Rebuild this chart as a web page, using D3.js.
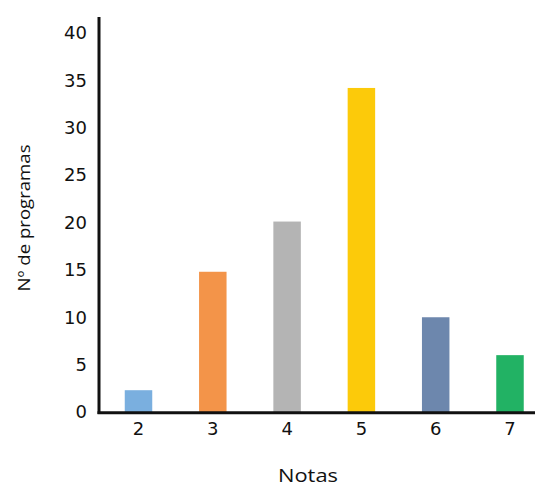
<!DOCTYPE html>
<html>
<head>
<meta charset="utf-8">
<script src="https://cdn.jsdelivr.net/npm/d3@7"></script>
<style>
  html, body { margin: 0; padding: 0; background: #fff; }
  svg { display: block; }
  text { font-family: "Open Sans", "DejaVu Sans", sans-serif; fill: #111; }
</style>
</head>
<body>
<svg id="chart" width="535" height="487"></svg>
<script>
const categories = ["2", "3", "4", "5", "6", "7"];
const values = [2.3, 14.8, 20.1, 34.2, 10, 6];
const colors = ["#7aafdf", "#f39449", "#b4b4b4", "#fcca0a", "#6d87ad", "#22b264"];
const yTicks = [0, 5, 10, 15, 20, 25, 30, 35, 40];
const xTitle = "Notas";
const yTitle = "Nº de programas";

const svg = d3.select("#chart");

const y = d3.scaleLinear().domain([0, 40]).range([412, 33]);
const x = d3.scaleBand().domain(categories)
  .range([101.35, 547.15]).paddingInner(0.63).paddingOuter(0.315);

// bars
svg.append("g").selectAll("rect").data(categories).join("rect")
  .attr("x", (d) => x(d))
  .attr("width", x.bandwidth())
  .attr("y", (d, i) => y(values[i]))
  .attr("height", (d, i) => y(0) - y(values[i]))
  .attr("fill", (d, i) => colors[i]);

// y axis
const yAxis = svg.append("g").attr("transform", "translate(99,0)")
  .call(d3.axisLeft(y).tickValues(yTicks).tickSize(0).tickPadding(12));
yAxis.select(".domain").remove();
yAxis.selectAll("text").style("font-size", "18px")
  .style("font-family", "'DejaVu Sans', sans-serif");

// x axis
const xAxis = svg.append("g").attr("transform", "translate(0,412.5)")
  .call(d3.axisBottom(x).tickSize(0).tickPadding(10));
xAxis.select(".domain").remove();
xAxis.selectAll("text").style("font-size", "18px")
  .style("font-family", "'DejaVu Sans', sans-serif");

// axis lines
svg.append("line").attr("x1", 99).attr("x2", 99).attr("y1", 17).attr("y2", 414)
  .attr("stroke", "#111").attr("stroke-width", 3);
svg.append("line").attr("x1", 97.5).attr("x2", 535).attr("y1", 412.7).attr("y2", 412.7)
  .attr("stroke", "#111").attr("stroke-width", 3);

// titles
svg.append("text").attr("x", 308).attr("y", 482).attr("text-anchor", "middle")
  .style("font-size", "19px")
  .attr("textLength", 60).attr("lengthAdjust", "spacingAndGlyphs")
  .text(xTitle);
svg.append("text").attr("transform", "translate(30,218) rotate(-90)")
  .attr("text-anchor", "middle").style("font-size", "17px")
  .attr("textLength", 147).attr("lengthAdjust", "spacingAndGlyphs")
  .text(yTitle);
</script>
</body>
</html>
